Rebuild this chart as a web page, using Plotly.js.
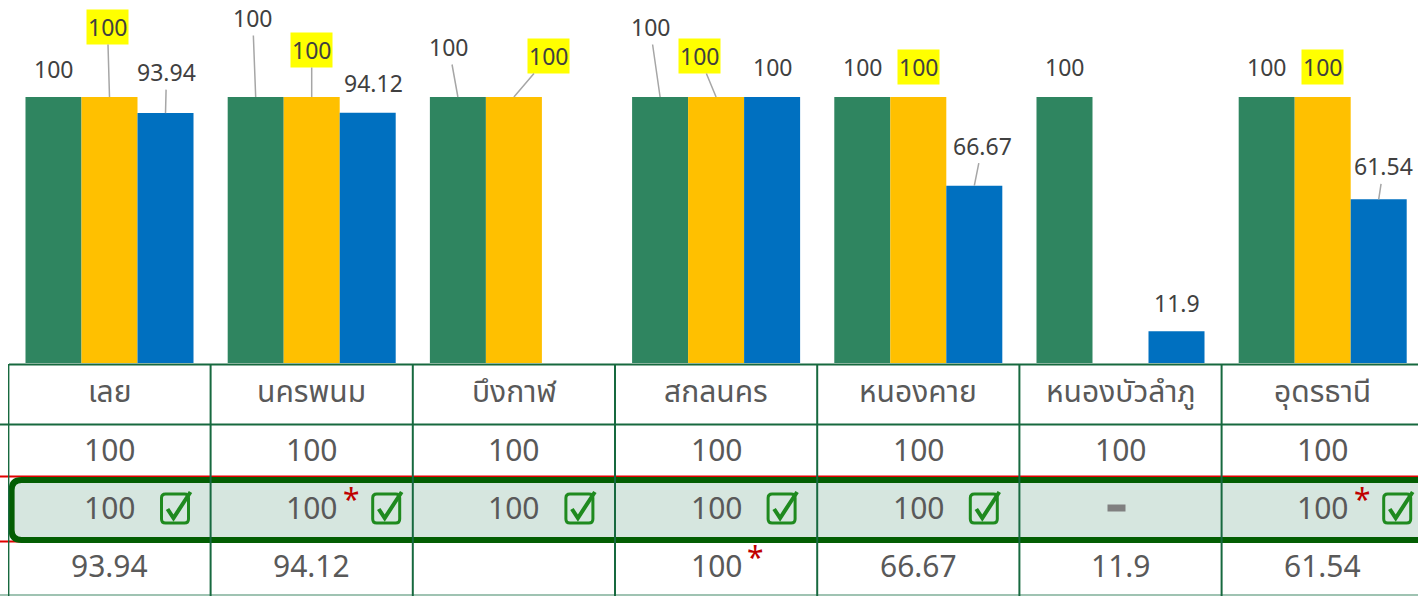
<!DOCTYPE html>
<html><head><meta charset="utf-8">
<script src="https://cdn.plot.ly/plotly-3.0.1.min.js"></script>
<style>html,body{margin:0;padding:0;background:#fff;overflow:hidden}#chart{width:1418px;height:596px}</style>
</head><body><div id="chart"></div>
<script>
// ---- data ----
const categories = ['เลย','นครพนม','บึงกาฬ','สกลนคร','หนองคาย','หนองบัวลำภู','อุดรธานี'];
const seriesGreen  = [100,100,100,100,100,100,100];
const seriesYellow = [100,100,100,100,100,null,100];
const seriesBlue   = [93.94,94.12,null,100,66.67,11.9,61.54];
const starYellow   = [false,true,false,false,false,false,true];
const starBlue     = [false,false,false,true,false,false,false];

// ---- layout geometry (pixels) ----
const W=1418,H=596, ML=8;
const catPx=202.2;
const r0=-0.5-0.4/catPx, r1=r0+(W-ML)/catPx;
const baseY=363, pxPer=2.66;
const bargap=0.169;
const bw=catPx*(1-bargap)/3;
const py=p=>1-p/H;
const FONT='Noto Sans, Kanit, DejaVu Sans, sans-serif';
const THAI='Noto Sans Thai, Noto Sans, sans-serif';
const colors=['#2F8560','#FFC000','#0070C0'];
const seriesAll=[seriesGreen,seriesYellow,seriesBlue];

const traces=seriesAll.map((s,k)=>({
  type:'bar',x:categories,y:s,marker:{color:colors[k]},hoverinfo:'skip',showlegend:false
}));

// label offsets [ax, ay, leader]
const lblPos=[
 [[0,-28,0],[-3,-79,1],[-9,-50,1],[-10,-70,1],[0,-30,0],[0,-30,0],[0,-30,0]],
 [[-2,-70,1],[0,-47,1],[35,-41,1],[-17,-41,1],[0,-30,0],null,[0,-30,0]],
 [[1,-41,1],[6,-30,0],null,[0,-30,0],[8,-40,1],[0,-28,0],[5,-33,1]]
];
const ann=[];
seriesAll.forEach((s,k)=>{
  s.forEach((v,i)=>{
    if(v===null) return;
    const p=lblPos[k][i];
    ann.push({x:categories[i],y:v,xref:'x',yref:'y',xshift:(k-1)*bw,
      text:String(v),showarrow:true,arrowhead:0,arrowwidth:1.5,
      arrowcolor:p[2]?'#A6A6A6':'rgba(0,0,0,0)',axref:'pixel',ayref:'pixel',ax:p[0],ay:p[1],
      standoff:0,startstandoff:0,
      bgcolor:k===1?'#FFFF00':'rgba(0,0,0,0)',borderpad:1,
      font:{family:FONT,size:23,color:'#404040'}});
  });
});

// table rows
const rowY={head:393,r1:449,r2:507,r3:565};
const tcol='#595959';
categories.forEach((c,i)=>{
  ann.push({x:c,y:py(rowY.head),xref:'x',yref:'paper',text:c,showarrow:false,yanchor:'middle',
    font:{family:THAI,size:30,color:tcol,weight:400}});
  ann.push({x:c,y:py(rowY.r1),xref:'x',yref:'paper',text:String(seriesGreen[i]),showarrow:false,yanchor:'middle',
    font:{family:FONT,size:30,color:tcol}});
  if(seriesYellow[i]!==null){
    ann.push({x:c,y:py(rowY.r2),xref:'x',yref:'paper',text:String(seriesYellow[i]),showarrow:false,yanchor:'middle',
      font:{family:FONT,size:30,color:tcol}});
    if(starYellow[i]) ann.push({x:c,y:py(rowY.r2),xref:'x',yref:'paper',xshift:40,yshift:9,text:'*',showarrow:false,yanchor:'middle',
      font:{family:FONT,size:30,color:'#C00000'}});
  }
  if(seriesBlue[i]!==null){
    ann.push({x:c,y:py(rowY.r3),xref:'x',yref:'paper',text:String(seriesBlue[i]),showarrow:false,yanchor:'middle',
      font:{family:FONT,size:30,color:tcol}});
    if(starBlue[i]) ann.push({x:c,y:py(rowY.r3),xref:'x',yref:'paper',xshift:39,yshift:9,text:'*',showarrow:false,yanchor:'middle',
      font:{family:FONT,size:30,color:'#C00000'}});
  }
});

// shapes
const shapes=[];
const gline='#17693F';
const xPaper=p=>(p-ML)/(W-ML);
// red lines
shapes.push({type:'line',xref:'paper',yref:'paper',x0:xPaper(0),x1:1,y0:py(476.5),y1:py(476.5),line:{color:'#E00000',width:2}});
shapes.push({type:'line',xref:'paper',yref:'paper',x0:xPaper(0),x1:1,y0:py(541.5),y1:py(541.5),line:{color:'#E00000',width:2}});
// horizontal lines
shapes.push({type:'line',xref:'paper',yref:'paper',x0:xPaper(9),x1:1,y0:py(364.5),y1:py(364.5),line:{color:gline,width:2}});
shapes.push({type:'line',xref:'paper',yref:'paper',x0:xPaper(0),x1:1,y0:py(424.5),y1:py(424.5),line:{color:gline,width:2}});
shapes.push({type:'line',xref:'paper',yref:'paper',x0:xPaper(0),x1:1,y0:py(595),y1:py(595),line:{color:'#7FAF98',width:1.5}});
// highlight box
{
  const L=12-ML-0.4, R=W+20, T=30, B=-30, r=10;
  const path=`M ${L+r},${B} L ${R},${B} L ${R},${T} L ${L+r},${T} Q ${L},${T} ${L},${T-r} L ${L},${B+r} Q ${L},${B} ${L+r},${B} Z`;
  shapes.push({type:'path',xref:'x',yref:'paper',xsizemode:'pixel',ysizemode:'pixel',xanchor:r0,yanchor:py(510),
    path:path,fillcolor:'#D6E6DF',line:{color:'#035E03',width:6}});
}
// vertical lines
for(let i=0;i<=categories.length;i++){
  shapes.push({type:'line',xref:'x',yref:'paper',x0:i-0.5,x1:i-0.5,y0:py(364),y1:py(596),line:{color:gline,width:2}});
}
// check boxes & dash
categories.forEach((c,i)=>{
  if(seriesYellow[i]===null){
    shapes.push({type:'rect',xref:'x',yref:'paper',xsizemode:'pixel',ysizemode:'pixel',xanchor:i,yanchor:py(508),
      x0:-13,x1:5,y0:-3.5,y1:3.5,fillcolor:'#808080',line:{width:0}});
    return;
  }
  const L=starYellow[i]?61:52, Rr=L+27, T=14, B=-15, r=4;
  const box=`M ${L+r},${B} L ${Rr-r},${B} Q ${Rr},${B} ${Rr},${B+r} L ${Rr},${T-r} Q ${Rr},${T} ${Rr-r},${T} L ${L+r},${T} Q ${L},${T} ${L},${T-r} L ${L},${B+r} Q ${L},${B} ${L+r},${B} Z`;
  shapes.push({type:'path',xref:'x',yref:'paper',xsizemode:'pixel',ysizemode:'pixel',xanchor:i,yanchor:py(508),
    path:box,line:{color:'#1F8A1F',width:3}});
  const chk=`M ${L+6},${-1} L ${L+12},${-10} L ${L+29},${16}`;
  shapes.push({type:'path',xref:'x',yref:'paper',xsizemode:'pixel',ysizemode:'pixel',xanchor:i,yanchor:py(508),
    path:chk,line:{color:'#1F8A1F',width:4}});
});

const layout={
  width:W,height:H,margin:{l:ML,r:0,t:0,b:0,pad:0},
  paper_bgcolor:'#fff',plot_bgcolor:'#fff',
  barmode:'group',bargap:bargap,bargroupgap:0,
  xaxis:{type:'category',range:[r0,r1],showticklabels:false,showgrid:false,zeroline:false,showline:false,ticks:'',fixedrange:true},
  yaxis:{domain:[1-baseY/H,1],range:[0,baseY/pxPer],showticklabels:false,showgrid:false,zeroline:false,showline:false,ticks:'',fixedrange:true},
  annotations:ann,shapes:shapes,showlegend:false
};
Plotly.newPlot('chart',traces,layout,{displayModeBar:false,staticPlot:true});
</script></body></html>
